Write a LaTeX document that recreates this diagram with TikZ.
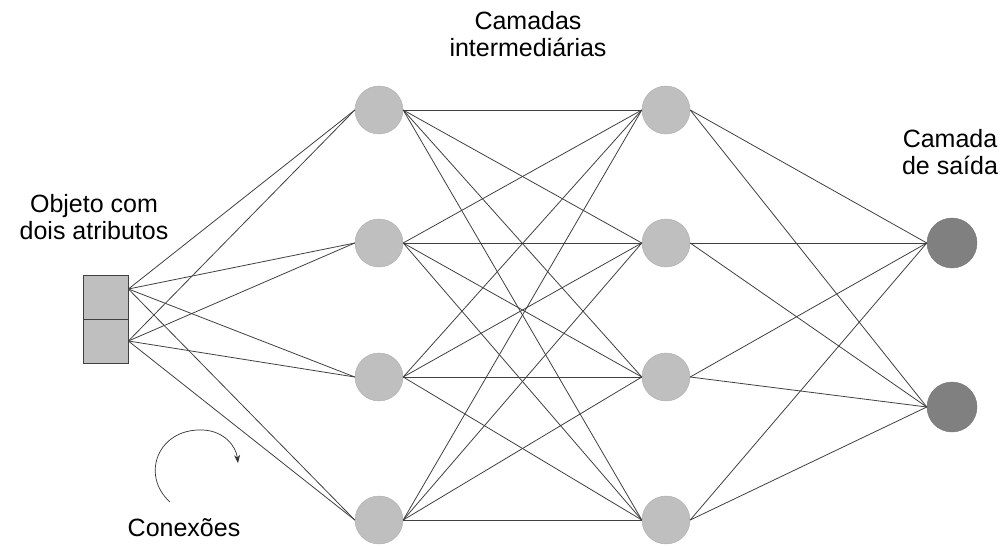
\documentclass[tikz,border=0pt]{standalone}
\usepackage{fontspec}
\setmainfont{Liberation Sans}
\usetikzlibrary{arrows.meta}
\begin{document}
\begin{tikzpicture}[x=1pt, y=-1pt,
    neuronio/.style={circle, fill=gray!50, draw=gray!65, line width=0.4pt, minimum size=48pt, inner sep=0pt},
    saida/.style={neuronio, fill=black!50, draw=black!55, minimum size=50pt},
    atributo/.style={rectangle, fill=gray!50, draw=black!75, line width=0.8pt, minimum width=45pt, minimum height=44pt, inner sep=0pt},
    conexao/.style={black!75, line width=0.8pt},
    rotulo/.style={align=center, inner sep=0pt, font=\fontsize{25}{27}\selectfont}]
    \useasboundingbox (0,0) rectangle (1001,546);

    % Objeto de entrada
    \node[atributo] (a1) at (105.5,297) {};
    \node[atributo] (a2) at (105.5,341) {};

    % Camadas
    \foreach \i/\y in {1/110,2/243,3/377,4/520} {
        \node[neuronio] (h\i) at (379,\y) {};
        \node[neuronio] (k\i) at (666,\y) {};
    }
    \node[saida] (o1) at (952,243) {};
    \node[saida] (o2) at (952,407) {};

    % Conexoes
    \foreach \i in {1,...,4} {
        \draw[conexao] ([yshift=8pt]a1.east) -- (h\i.west);
        \draw[conexao] (a2.east) -- (h\i.west);
        \foreach \j in {1,...,4}
            \draw[conexao] (h\i.east) -- (k\j.west);
        \foreach \j in {1,2}
            \draw[conexao] (k\i.east) -- (o\j.west);
    }

    % Seta curva
    \coordinate (c0) at (170,502);
    \coordinate (c1) at (238,463);
    \draw[black!80, line width=0.7pt, -{Stealth[length=8pt, width=6pt]}]
        (c0) .. controls (140,475) and (158,428) .. (203,430)
             .. controls (224,431) and (236,446) .. (c1);

    % Textos
    \node[rotulo] (tmeio) at (528,34) {Camadas\\intermediárias};
    \node[rotulo] (tentrada) at (94,217) {Objeto com\\dois atributos};
    \node[rotulo] (tsaida) at (950,152) {Camada\\de saída};
    \node[rotulo] (tcon) at (184,528) {Conexões};
\end{tikzpicture}
\end{document}
